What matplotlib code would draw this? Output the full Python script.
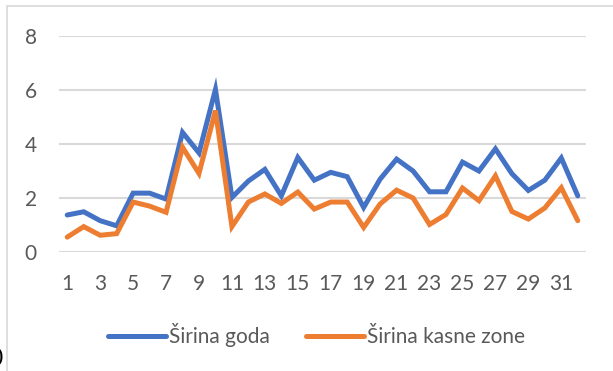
import matplotlib
matplotlib.use("Agg")
import matplotlib.pyplot as plt
from matplotlib.patches import Rectangle

# Sample index and measured widths
samples = list(range(1, 33))
sirina_goda = [1.37, 1.49, 1.16, 0.97, 2.18, 2.18, 1.96, 4.43, 3.67, 6.02,
               2.02, 2.63, 3.06, 2.08, 3.50, 2.66, 2.95, 2.79, 1.65, 2.70,
               3.44, 3.00, 2.23, 2.23, 3.33, 3.00, 3.82, 2.90, 2.28, 2.66,
               3.48, 2.08]
sirina_kasne_zone = [0.55, 0.94, 0.62, 0.68, 1.85, 1.70, 1.47, 3.88, 2.91, 5.24,
                     0.94, 1.85, 2.15, 1.80, 2.22, 1.59, 1.85, 1.85, 0.91, 1.78,
                     2.29, 2.00, 1.02, 1.39, 2.37, 1.90, 2.82, 1.50, 1.22, 1.63,
                     2.38, 1.16]
y_ticks = [0, 2, 4, 6, 8]
series_names = ["Širina goda", "Širina kasne zone"]

W, H = 613, 371
fig = plt.figure(figsize=(W / 100, H / 100), dpi=100)
fig.patch.set_facecolor("white")

# chart frame
fig.patches.append(Rectangle((7 / W, -0.1), 1.2, (H - 6) / H + 0.1,
                             transform=fig.transFigure, fill=False,
                             edgecolor="#D9D9D9", linewidth=1.2))

ax = fig.add_axes([59 / W, (H - 252) / H, (586 - 59) / W, (252 - 36) / H])
ax.set_facecolor("none")

blue = "#4472C4"
orange = "#ED7D31"
l1, = ax.plot(samples, sirina_goda, color=blue, linewidth=3.6,
              solid_joinstyle="miter", solid_capstyle="round", zorder=3)
l2, = ax.plot(samples, sirina_kasne_zone, color=orange, linewidth=3.6,
              solid_joinstyle="miter", solid_capstyle="round", zorder=4)

ax.set_xlim(0.5, 32.5)
ax.set_ylim(0, 8)
ax.set_yticks(y_ticks)
ax.set_xticks(samples[::2])
ax.yaxis.grid(True, color="#D9D9D9", linewidth=1.5)
ax.set_axisbelow(True)
for s in ax.spines.values():
    s.set_visible(False)

font = "Lato"
fs = 15
tick_color = "#595959"
ax.tick_params(axis="both", length=0, labelsize=fs, labelcolor=tick_color)
ax.tick_params(axis="y", pad=16)
ax.tick_params(axis="x", pad=16)
for lab in ax.get_xticklabels() + ax.get_yticklabels():
    lab.set_fontfamily(font)

fig.legend([l1, l2], series_names, loc="center",
           bbox_to_anchor=(316.5 / W, (H - 335) / H), ncol=2, frameon=False,
           handlelength=2.8, handletextpad=0.12, columnspacing=1.75,
           prop={"family": font, "size": fs}, labelcolor=tick_color)

fig.text(-4 / W, 4 / H, ")", fontsize=15, color="black",
         family="DejaVu Serif", ha="left", va="bottom")

fig.savefig("out.png", dpi=100, facecolor="white")
